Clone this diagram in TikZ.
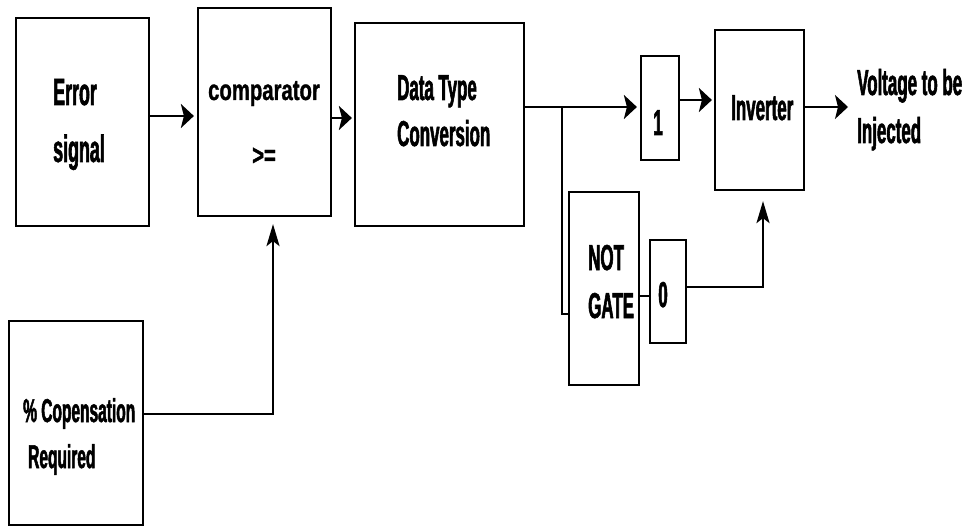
\documentclass[tikz,border=0pt]{standalone}
\usepackage{fontspec}
\newfontfamily\blockfont{Liberation Sans}[FakeStretch=0.47, FakeBold=1.5]
\newfontfamily\compfont{Liberation Sans}[FakeStretch=0.7, FakeBold=1]
\usetikzlibrary{arrows.meta, calc}

\begin{document}
\begin{tikzpicture}[
    x=1pt, y=-1pt,
    blk/.style={draw, line width=2.2pt, fill=white, inner sep=0pt},
    lbl/.style={inner sep=0pt, anchor=base west, align=left,
      font=\blockfont\bfseries\fontsize{36}{47}\selectfont},
    wire/.style={line width=2.6pt},
    harr/.style={wire, -{Stealth[length=13pt, width=24pt, inset=3pt]}},
    varr/.style={wire, -{Stealth[length=22pt, width=13pt, inset=5pt]}}
  ]
    \useasboundingbox (0,0) rectangle (965,526);

    % blocks
    \node[blk, minimum width=133pt, minimum height=208pt] (err) at (82.5,122) {};
    \node[blk, minimum width=133pt, minimum height=208pt] (comp) at (264.5,112) {};
    \node[blk, minimum width=169pt, minimum height=203pt] (dtc) at (439.5,124.5) {};
    \node[blk, minimum width=38pt, minimum height=104pt] (one) at (660,108) {};
    \node[blk, minimum width=89pt, minimum height=160pt] (inv) at (759.5,110) {};
    \node[blk, minimum width=70pt, minimum height=193pt] (notg) at (604,288.5) {};
    \node[blk, minimum width=36pt, minimum height=103pt] (zero) at (668,291.5) {};
    \node[blk, minimum width=134pt, minimum height=204pt] (pct) at (76,423) {};

    % labels (base = last line)
    \node[lbl, font=\blockfont\bfseries\fontsize{38}{47}\selectfont] (errtxt) at (53,162) {Error\\[10pt]signal};
    \node[lbl, anchor=base, align=center, font=\compfont\bfseries\fontsize{29}{47}\selectfont] (comptxt) at (264,165) {comparator\\[18pt]>=};
    \node[lbl, font=\blockfont\bfseries\fontsize{36}{46}\selectfont] (dtctxt) at (397,146) {Data Type\\Conversion};
    \node[lbl, anchor=base] (onetxt) at (658,135) {1};
    \node[lbl] (invtxt) at (731,120) {Inverter};
    \node[lbl, font=\blockfont\bfseries\fontsize{36}{48}\selectfont] (vout) at (857,143) {Voltage to be\\Injected};
    \node[lbl, font=\blockfont\bfseries\fontsize{36}{48}\selectfont] (nottxt) at (588,318) {NOT\\GATE};
    \node[lbl, anchor=base] (zerotxt) at (663,307) {0};
    \node[lbl, font=\blockfont\bfseries\fontsize{33}{46}\selectfont] (pcttxt) at (23,468) {\% Copensation\\\hspace{5pt}Required};

    % connectors
    \coordinate (br) at (562,107);
    \draw[harr, shorten >=3pt] (err.east |- 0,116) -- (comp.west |- 0,116);
    \draw[harr, shorten >=2pt] (comp.east |- 0,118) -- (dtc.west |- 0,118);
    \draw[harr, shorten >=3pt] (dtc.east |- 0,107) -- (one.west |- 0,107);
    \draw[wire] (br) |- (notg.west |- 0,314);
    \draw[harr, shorten >=2pt] (one.east |- 0,100) -- (inv.west |- 0,100);
    \draw[harr, shorten >=9pt] (inv.east |- 0,107) -- (vout.west |- 0,107);
    \draw[wire] (notg.east |- 0,296) -- (zero.west |- 0,296);
    \draw[varr, shorten >=10pt] (zero.east |- 0,287) -| (inv.south -| 763,0);
    \draw[varr, shorten >=7pt] (pct.east |- 0,414) -| (comp.south -| 273,0);
  \end{tikzpicture}
\end{document}
